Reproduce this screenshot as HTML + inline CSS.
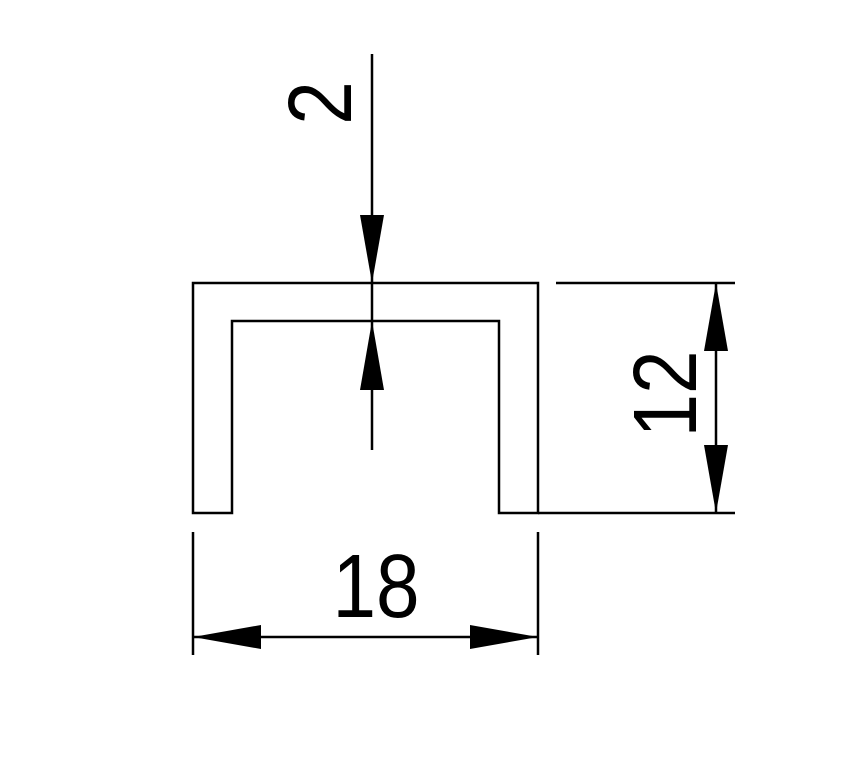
<!DOCTYPE html>
<html><head><meta charset="utf-8"><style>
html,body{margin:0;padding:0;background:#fff;}
svg{display:block;}
text{font-family:"Liberation Sans",sans-serif;fill:#000;}
</style></head><body>
<svg width="851" height="767" viewBox="0 0 851 767" xmlns="http://www.w3.org/2000/svg">
<g stroke="#000" stroke-width="2.5" fill="none">
<!-- U profile -->
<path d="M193 513 L193 283 L538 283 L538 513 L499 513 L499 321 L232 321 L232 513 Z"/>
<!-- extension lines right -->
<line x1="556" y1="283" x2="735" y2="283"/>
<line x1="538" y1="513" x2="735" y2="513"/>
<!-- dim 12 -->
<line x1="716" y1="283" x2="716" y2="513"/>
<!-- extension lines bottom -->
<line x1="193" y1="532" x2="193" y2="655"/>
<line x1="538" y1="532" x2="538" y2="655"/>
<line x1="193" y1="637" x2="538" y2="637"/>
<!-- dim 2 -->
<line x1="372" y1="54" x2="372" y2="450"/>
</g>
<g fill="#000">
<polygon points="372,283 360,215 384,215"/>
<polygon points="372,321 360,390 384,390"/>
<polygon points="716,283 704,351 728,351"/>
<polygon points="716,513 704,445 728,445"/>
<polygon points="193,637 261,625 261,649"/>
<polygon points="538,637 470,625 470,649"/>
</g>
<text x="0" y="0" font-size="90" text-anchor="middle" transform="translate(376,617) scale(0.87,1)">18</text>
<text x="0" y="0" font-size="90" text-anchor="middle" transform="translate(696,394) rotate(-90) scale(0.87,1)">12</text>
<text x="0" y="0" font-size="90" text-anchor="middle" transform="translate(351,103) rotate(-90) scale(0.87,1)">2</text>
</svg>
</body></html>
